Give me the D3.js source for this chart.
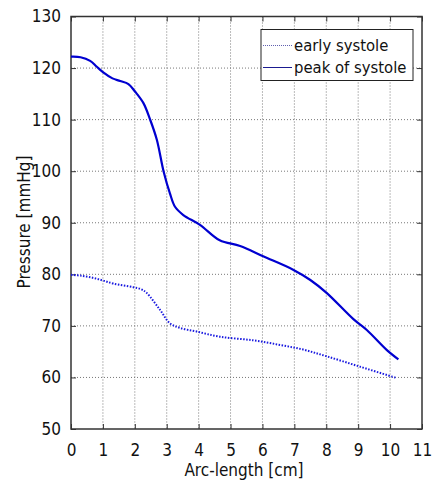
<!DOCTYPE html>
<html>
<head>
<meta charset="utf-8">
<script src="https://cdn.jsdelivr.net/npm/d3@7"></script>
<style>
  body { margin: 0; background: #fff; }
  svg text { font-family: "DejaVu Sans Condensed", "DejaVu Sans", sans-serif; font-stretch: condensed; fill: #111; }
</style>
</head>
<body>
<div id="chart"></div>
<script>
// arc-length [cm] and pressure [mmHg]
var peakX = [0, 0.3, 0.6, 0.8, 1.0, 1.3, 1.54, 1.8, 2.0, 2.27, 2.48, 2.69, 2.9, 3.1, 3.26, 3.52, 4.04, 4.66, 5.3, 6.02, 6.96, 7.5, 8.01, 8.85, 9.27, 9.9, 10.26];
var peakY = [122.2, 122.1, 121.4, 120.3, 119.2, 118.0, 117.5, 116.9, 115.5, 113.2, 110.0, 106.1, 100.0, 95.7, 93.1, 91.5, 89.6, 86.6, 85.5, 83.5, 80.9, 78.9, 76.4, 71.3, 69.2, 65.3, 63.5];

var earlyX = [0, 0.35, 0.7, 1.0, 1.33, 1.95, 2.2, 2.37, 2.79, 3.1, 3.42, 3.94, 4.66, 5.71, 6.55, 7.28, 8.01, 9.05, 10.2];
var earlyY = [79.9, 79.7, 79.3, 78.8, 78.2, 77.5, 77.1, 76.4, 73.1, 70.5, 69.6, 68.9, 67.9, 67.2, 66.3, 65.4, 64.1, 62.1, 59.9];

var xTicks = d3.range(0, 12);
var yTicks = d3.range(50, 131, 10);
var legendNames = ["early systole", "peak of systole"];

var W = 438, H = 481;
var m = {left: 71, top: 16.5, right: 16, bottom: 52};
var pw = W - m.left - m.right, ph = H - m.top - m.bottom;

var svg = d3.select("#chart").append("svg").attr("width", W).attr("height", H);
var g = svg.append("g").attr("transform", "translate(" + m.left + "," + m.top + ")");

var x = d3.scaleLinear().domain([0, 11]).range([0, pw]);
var y = d3.scaleLinear().domain([50, 130]).range([ph, 0]);

// dotted grid
g.append("g").selectAll("line").data(xTicks.slice(1, -1)).enter().append("line")
  .attr("x1", function(d) { return x(d); }).attr("x2", function(d) { return x(d); })
  .attr("y1", 0).attr("y2", ph)
  .attr("stroke", "#777").attr("stroke-width", 1).attr("stroke-dasharray", "1,2");
g.append("g").selectAll("line").data(yTicks.slice(1, -1)).enter().append("line")
  .attr("y1", function(d) { return y(d); }).attr("y2", function(d) { return y(d); })
  .attr("x1", 0).attr("x2", pw)
  .attr("stroke", "#777").attr("stroke-width", 1).attr("stroke-dasharray", "1,2");

// axes with inward ticks
g.append("g").attr("transform", "translate(0," + ph + ")")
  .call(d3.axisBottom(x).tickValues(xTicks).tickSizeInner(-5).tickSizeOuter(0).tickPadding(15));
g.append("g")
  .call(d3.axisLeft(y).tickValues(yTicks).tickSizeInner(-5).tickSizeOuter(0).tickPadding(10));
g.append("g").call(d3.axisTop(x).tickValues(xTicks).tickSizeInner(-5).tickSizeOuter(0).tickFormat(""));
g.append("g").attr("transform", "translate(" + pw + ",0)")
  .call(d3.axisRight(y).tickValues(yTicks).tickSizeInner(-5).tickSizeOuter(0).tickFormat(""));

g.selectAll(".domain").remove();
g.selectAll(".tick line").attr("stroke", "#333");
g.selectAll(".tick text").style("font-size", "17px").attr("fill", "#111");

g.append("rect").attr("width", pw).attr("height", ph)
  .attr("fill", "none").attr("stroke", "#333").attr("stroke-width", 1.5);

// curves
var line = d3.line().curve(d3.curveCatmullRom.alpha(0.5))
  .x(function(d) { return x(d[0]); }).y(function(d) { return y(d[1]); });

g.append("path").datum(d3.zip(earlyX, earlyY))
  .attr("d", line).attr("fill", "none")
  .attr("stroke", "#1a1ae0").attr("stroke-width", 2).attr("stroke-dasharray", "1.5,1.5");
g.append("path").datum(d3.zip(peakX, peakY))
  .attr("d", line).attr("fill", "none")
  .attr("stroke", "#0000d0").attr("stroke-width", 2.2);

// legend
var lg = svg.append("g").attr("transform", "translate(261,29.5)");
lg.append("rect").attr("width", 152).attr("height", 51)
  .attr("fill", "#fff").attr("stroke", "#222").attr("stroke-width", 1);
lg.selectAll("line.k").data(legendNames).enter().append("line")
  .attr("x1", 2).attr("x2", 31)
  .attr("y1", function(d, i) { return 16 + i * 22; }).attr("y2", function(d, i) { return 16 + i * 22; })
  .attr("stroke", function(d, i) { return i ? "#1a1a90" : "#6060b0"; })
  .attr("stroke-width", 1)
  .attr("stroke-dasharray", function(d, i) { return i ? null : "1,1"; });
lg.selectAll("text").data(legendNames).enter().append("text")
  .attr("x", 33).attr("y", function(d, i) { return 16 + i * 22; })
  .attr("dy", "0.35em").style("font-size", "16.5px").text(function(d) { return d; });

// axis labels
svg.append("text").attr("x", 244).attr("y", 476).attr("text-anchor", "middle")
  .style("font-size", "17px").text("Arc-length [cm]");
svg.append("text").attr("transform", "translate(30,222) rotate(-90)").attr("text-anchor", "middle")
  .style("font-size", "17px").text("Pressure [mmHg]");
</script>
</body>
</html>
